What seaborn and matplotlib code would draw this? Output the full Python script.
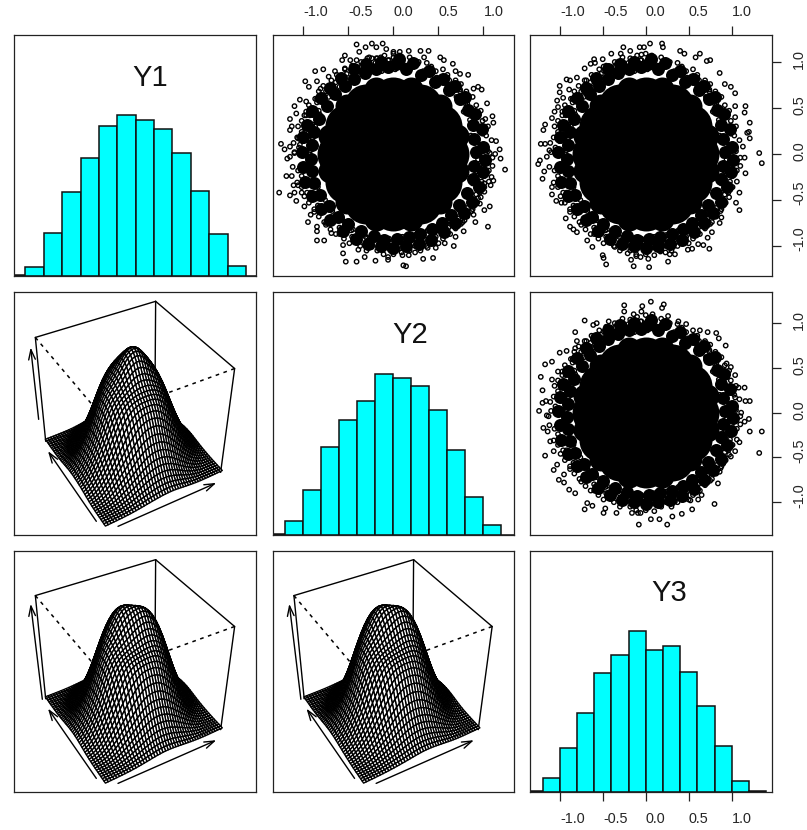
import numpy as np
import pandas as pd
import matplotlib
matplotlib.use("Agg")
import matplotlib.pyplot as plt
from matplotlib.collections import PolyCollection
from matplotlib.transforms import ScaledTranslation
import seaborn as sns

# ---------- data ----------
names = ["Y1", "Y2", "Y3"]
bin_edges = [-1.4, -1.2, -1.0, -0.8, -0.6, -0.4, -0.2, 0.0, 0.2, 0.4, 0.6, 0.8, 1.0, 1.2, 1.4]
y1_counts = [2, 28, 130, 251, 353, 450, 483, 467, 442, 369, 255, 126, 31, 0]
y2_counts = [3, 40, 134, 264, 345, 402, 483, 471, 447, 373, 255, 113, 28, 0]
y3_counts = [3, 40, 130, 235, 358, 410, 484, 426, 439, 361, 256, 138, 32, 3]
tick_values = [-1.0, -0.5, 0.0, 0.5, 1.0]
tick_labels = ["-1.0", "-0.5", "0.0", "0.5", "1.0"]

# outer points, individually readable
y2y1_x = [-.41,-.31,-.24,-.12,-.19,-.08,-.38,0,.07,.17,.30,.39,-.54,-.57,-.48,-.41,-.29,-.24,-.19,-.14,0,.34,.52,.56,.66,-.87,-.78,-.65,-.54,-.98,-.94,-.85,.69,.83,.74,-.72,-1.04,-.97,-1.10,-1.08,-1.15,-.99,-.81,.89,.94,.98,1.04,1.10,1.11,1.02,1.14,1.18,1.19,1.24,1.13,1.07,1.09,1.11,1.08,1.01,-1.25,-1.21,-1.15,-1.18,-1.10,-1.19,-1.13,-1.27,-1.15,-1.11,-1.06,-1.10,-1.08,-.99,-1.02,-.95,-.92,-.85,-.85,-.85,-.77,-.69,-.75,-.56,-.56,-.53,-.41,-.20,-.06,.11,.14,.33,.44,-.32,-.39,-.24,-.04,.09,.17,.24,.38,.47,.67,.57,.69,.78,.91,1.05,1.07,1.01,.96,.89,.79,.86,.94,1.01,-1.15,-1.13,-1.06,-1.04]
y2y1_y = [1.19,1.16,1.20,1.20,1.16,1.14,1.11,1.11,1.11,1.12,1.12,1.12,1.07,1.02,1.02,1.02,1.04,1.04,1.04,1.05,1.05,1.05,1.05,1.02,.98,.90,.92,.90,.93,.79,.73,.79,.90,.86,.87,.84,.59,.57,.52,.44,.38,.42,.71,.71,.73,.70,.55,.41,.34,.38,.14,.05,-.05,-.17,0,.01,-.25,-.29,-.34,-.32,.11,.05,.08,-.05,.01,-.24,-.24,-.42,-.45,-.34,-.34,-.42,-.51,-.57,-.42,-.74,-.66,-.79,-.84,-.94,-.94,-.86,-.75,-.99,-1.08,-1.17,-1.17,-1.16,-1.15,-1.21,-1.22,-1.14,-1.13,-1.12,-1.04,-1.01,-1.04,-1.07,-1.10,-1.07,-1.02,-1.02,-1.00,-.97,-.90,-.84,-.74,-.79,-.57,-.61,-.54,-.66,-.72,-.48,-.48,-.41,.26,.30,.17,.10]
y3y1_x = [-.26,-.07,-.02,.05,.19,.20,-.40,-.29,-.18,-.05,.40,.45,.58,.63,.71,.75,-.60,-.50,-.64,-.71,-.59,-.92,-.80,-1.00,-1.00,-.89,-.71,.86,.92,.99,1.04,1.04,1.16,1.15,1.04,1.21,1.20,1.18,1.21,1.13,1.15,1.32,1.35,1.16,1.09,1.05,1.09,.88,.86,.77,.72,.74,.67,.61,.54,.49,.34,.28,.23,.17,.26,.04,.03,-.11,-.14,-.17,-.21,-.36,-.46,-.49,-.50,-.62,-.68,-.80,-.84,-.88,-.93,-1.04,-.98,-1.09,-1.09,-1.20,-1.23,-1.25,-1.18,-1.22,-1.17,-1.12,-1.19,-1.17,-1.09,-1.06,-1.02,-1.03,-.96,-.88,-.49]
y3y1_y = [1.16,1.16,1.16,1.20,1.20,1.16,1.09,1.09,1.12,1.08,1.12,1.09,1.05,1.09,1.01,1.02,1.03,1.03,.98,.93,.99,.81,.83,.74,.67,.70,.80,.88,.76,.73,.66,.52,.52,.45,.40,.34,.24,.23,.17,.08,-.04,.01,-.10,-.21,-.42,-.53,-.61,-.69,-.75,-.85,-.91,-1.03,-.99,-.98,-1.03,-1.04,-1.09,-1.09,-1.07,-1.06,-1.17,-1.23,-1.14,-1.11,-1.22,-1.15,-1.08,-1.01,-1.20,-1.13,-1.10,-1.01,-.94,-.85,-.82,-.79,-.70,-.51,-.53,-.44,-.36,-.27,-.07,-.11,-.19,.11,.11,.04,.26,.32,.39,.46,.51,.58,.61,.80,.95]
y3y2_x = [-.25,-.04,.06,.21,.19,-.25,-.05,-.14,.08,.26,-.71,-.61,-.57,-.43,.38,.47,-.82,-.80,-.71,.63,.72,.82,.85,.93,-1.00,-.92,-.82,.83,.94,.99,1.04,-1.17,-1.09,-1.02,-1.22,-1.09,-1.20,1.08,1.15,1.04,1.16,1.21,-1.16,-1.20,-1.24,-1.13,1.11,1.20,1.15,1.35,1.21,-1.19,-1.14,-1.11,1.09,1.04,1.32,-1.17,-1.07,.99,.90,-1.03,-1.07,-.95,-1.01,-.95,-.89,-.82,.86,.84,.65,.61,.80,.54,.42,.31,.16,.06,.25,-.08,-.71,-.68,-.62,-.47,-.49,-.34,-.16,-.09,.52,.34]
y3y2_y = [1.20,1.19,1.24,1.21,1.17,1.13,1.13,1.10,1.10,1.08,1.03,.98,1.00,1.02,1.02,.99,.90,.80,.80,.92,.90,.89,.83,.75,.67,.69,.72,.61,.55,.51,.42,.54,.57,.46,.40,.37,.25,.28,.28,.17,.13,.13,.13,.11,.02,-.04,0,-.07,-.10,-.21,-.21,-.17,-.21,-.32,-.33,-.43,-.45,-.48,-.43,-.49,-.57,-.58,-.64,-.69,-.75,-.78,-.86,-.90,-.66,-.79,-.92,-.97,-1.02,-1.08,-1.13,-1.16,-1.19,-1.19,-1.25,-1.25,-1.08,-1.01,-1.04,-1.07,-1.12,-1.12,-1.12,-1.12,-.98,-.99]

# crowded fringe: estimated hollow points, shared by the three scatter panels
fringe_x = [1.05,.96,1.10,.90,1.03,.93,1.09,.86,.99,.90,1.05,.85,.92,.83,.97,.80,.81,.73,.88,.74,.69,.62,.75,.60,.55,.50,.60,.47,.37,.33,.42,.28,.18,.15,.24,.10,0,.03,-.05,.07,-.18,-.13,-.23,-.10,-.36,-.30,-.40,-.27,-.54,-.47,-.58,-.46,-.69,-.60,-.73,-.63,-.83,-.72,-.85,-.78,-.94,-.83,-.97,-.87,-1.02,-.90,-1.06,-.97,-1.07,-.94,-1.11,-1.02,-1.10,-.96,-1.15,-1.05,-1.06,-.95,-1.12,-1.02,-1.02,-.90,-1.07,-.96,-.94,-.84,-.99,-.88,-.83,-.74,-.88,-.77,-.70,-.61,-.75,-.64,-.55,-.47,-.60,-.49,-.37,-.31,-.42,-.30,-.18,-.15,-.24,-.11,0,-.03,.05,-.06,.18,.14,.24,.10,.37,.32,.42,.30,.55,.48,.60,.50,.69,.62,.75,.63,.82,.73,.87,.77,.93,.83,.97,.88,1.01,.90,1.06,.96,1.06,.94,1.10,1.01]
fringe_y = [.03,.07,-.04,-.02,.20,.14,.15,.20,.36,.30,.30,.37,.53,.47,.47,.55,.68,.62,.62,.70,.80,.74,.76,.83,.92,.82,.86,.90,.99,.90,.95,1.0,1.05,.96,.97,1.0,1.09,.97,1.02,1.07,1.04,.93,.95,1.07,1.0,.90,.93,1.05,.92,.83,.85,.96,.80,.73,.72,.86,.68,.62,.60,.74,.53,.47,.46,.60,.36,.32,.30,.42,.18,.16,.12,.24,.02,-.02,-.03,.07,-.18,-.15,-.14,-.24,-.36,-.32,-.31,-.42,-.53,-.47,-.46,-.60,-.68,-.60,-.63,-.74,-.82,-.72,-.77,-.87,-.92,-.83,-.87,-.97,-1.0,-.90,-.95,-1.05,-1.05,-.95,-1.0,-1.09,-1.09,-.97,-1.03,-1.12,-1.05,-.95,-1.0,-1.1,-1.0,-.90,-.95,-1.05,-.92,-.83,-.86,-.97,-.81,-.72,-.76,-.87,-.68,-.61,-.62,-.74,-.53,-.47,-.47,-.60,-.36,-.31,-.30,-.42,-.18,-.15,-.13,-.24]

# dense band: estimated clumps of overplotted points
band_x = [.03,.14,.22,.31,.40,.46,.55,.62,.68,.74,.80,.83,.91,.88,.98,.90,1.0,.92,1.02,.90,.99,.88,.95,.82,.87,.73,.78,.64,.68,.54,.56,.43,.42,.30,.28,.17,.14,.04,0,-.10,-.14,-.22,-.28,-.36,-.42,-.50,-.56,-.62,-.70,-.72,-.80,-.82,-.90,-.88,-.98,-.90,-1.0,-.92,-1.02,-.90,-1.0,-.88,-.96,-.83,-.90,-.74,-.80,-.65,-.70,-.54,-.58,-.44,-.44,-.32,-.30,-.19,-.14,-.06,.06]
band_y = [.98,.92,.99,.86,.90,.78,.82,.70,.74,.60,.62,.48,.43,.32,.27,.16,.08,.02,-.06,-.13,-.20,-.27,-.36,-.42,-.52,-.55,-.64,-.66,-.75,-.75,-.85,-.82,-.93,-.87,-.98,-.90,-1.0,-.92,-1.02,-.93,-1.0,-.89,-.98,-.84,-.92,-.76,-.84,-.68,-.72,-.57,-.60,-.45,-.46,-.32,-.30,-.18,-.14,-.05,.02,.10,.18,.24,.32,.38,.47,.52,.61,.65,.72,.74,.83,.82,.92,.88,.98,.92,1.0,.94,1.03]

# solid black core: estimated positions and overplot counts
core_x = [0, .3,.15,-.15,-.3,-.15,.15, .6,.52,.3,0,-.3,-.52,-.6,-.52,-.3,0,.3,.52]
core_y = [0, 0,.26,.26,0,-.26,-.26, 0,.3,.52,.6,.52,.3,0,-.3,-.52,-.6,-.52,-.3]
rim_x = [.71,.52,.19,-.19,-.52,-.71,-.71,-.52,-.19,.19,.52,.71]
rim_y = [.19,.52,.71,.71,.52,.19,-.19,-.52,-.71,-.71,-.52,-.19]
core_n_y1y2 = [30, 34,36,32,28,26,26, 22,26,26,26,24,22,20,20,20,20,20,20]
core_n_y1y3 = [24, 42,28,42,28,24,26, 24,26,26,28,24,22,20,20,20,20,20,20]
core_n_y2y3 = [24, 42,28,42,28,24,26, 24,26,26,28,24,22,20,20,20,20,20,20]

# ---------- helpers ----------
W, H = 807, 830
col_px = [(14.0, 256.3), (272.7, 513.7), (529.7, 772.3)]
row_px = [(35.0, 276.0), (292.3, 534.7), (550.7, 791.7)]
col_lim = [(-1.323, 1.311), (-1.342, 1.336), (-1.349, 1.472)]
row_lim = [(-1.326, 1.293), (-1.363, 1.345), (-1.363, 1.345)]

sns.set_theme(style="white")
plt.rcParams["font.family"] = ["Liberation Sans", "DejaVu Sans"]
plt.rcParams["axes.edgecolor"] = "#222222"
plt.rcParams["axes.linewidth"] = 0.9
fig = plt.figure(figsize=(W / 100, H / 100), dpi=100)


def panel(r, c):
    x0, x1 = col_px[c]
    y0, y1 = row_px[r]
    return fig.add_axes([x0 / W, 1 - y1 / H, (x1 - x0) / W, (y1 - y0) / H])


def hist(r, c, counts, top, name, tx, ty):
    ax = panel(r, c)
    edges = np.array(bin_edges)
    df = pd.DataFrame({"value": edges[:-1] + 0.1, "count": counts})
    sns.histplot(data=df, x="value", weights="count", bins=bin_edges, color="#00FFFF",
                 edgecolor="#111111", linewidth=1.1, alpha=1, ax=ax)
    ax.set_xlim(col_lim[c])
    ax.set_ylim(0, top)
    ax.set_xlabel("")
    ax.set_ylabel("")
    ax.set_xticks([])
    ax.set_yticks([])
    fig.text(tx / W, 1 - ty / H, name, fontsize=21, ha="center", va="center", color="#111111")
    return ax


def scatter(r, c, xs, ys):
    ax = panel(r, c)
    sns.scatterplot(x=core_x, y=core_y, s=(44 * .72) ** 2, color="black", linewidth=0, ax=ax)
    sns.scatterplot(x=rim_x, y=rim_y, s=(24 * .72) ** 2, color="black", linewidth=0, ax=ax)
    sns.scatterplot(x=band_x, y=band_y, s=(13 * .72) ** 2, color="black", linewidth=0, ax=ax)
    for px, py in [(fringe_x, fringe_y), (band_y, band_x), (xs, ys)]:
        sns.scatterplot(x=px, y=py, s=(4.4 * .72) ** 2, facecolor="none", edgecolor="black",
                        linewidth=1.0, ax=ax)
    ax.set_xlim(col_lim[c])
    ax.set_ylim(row_lim[r])
    ax.set_xticks([])
    ax.set_yticks([])
    return ax


def label_axis(ax, which):
    fs = 10.4
    if which in ("top", "bottom"):
        ax.set_xticks(tick_values)
        ax.set_xticklabels(tick_labels, fontsize=fs)
        pad = 5 if which == "top" else 8.5
        ax.tick_params(axis="x", which="major", length=6.3, width=0.9, pad=pad, color="#222222",
                       top=which == "top", bottom=which == "bottom",
                       labeltop=which == "top", labelbottom=which == "bottom")
        for t, v in zip(ax.get_xticklabels(), tick_values):
            dpx = 12.5 if v < 0 else 10
            t.set_transform(t.get_transform() + ScaledTranslation(dpx / 100, 0, fig.dpi_scale_trans))
    else:
        ax.set_yticks(tick_values)
        ax.set_yticklabels(tick_labels, fontsize=fs, rotation=90, va="center")
        ax.tick_params(axis="y", which="major", length=6.3, width=0.9, pad=8, color="#222222",
                       right=True, left=False, labelright=True, labelleft=False)
        for t, v in zip(ax.get_yticklabels(), tick_values):
            dpx = 7 if v < 0 else 3
            t.set_transform(t.get_transform() + ScaledTranslation(0, dpx / 100, fig.dpi_scale_trans))


def camera(corners):
    rows = []
    for (X, Y, Z), (u, v) in corners.items():
        p = [X, Y, Z, 1]
        rows.append(p + [0, 0, 0, 0] + [-u * a for a in p])
        rows.append([0, 0, 0, 0] + p + [-v * a for a in p])
    return np.linalg.svd(np.array(rows, float))[2][-1].reshape(3, 4)


corners = {(0, 0, 0): (293, 713), (1, 0, 0): (638, 553), (0, 1, 0): (113, 460), (1, 1, 0): (441, 320),
           (0, 0, 1): (283, 387), (1, 0, 1): (680, 243), (0, 1, 1): (82, 150), (1, 1, 1): (443, 42)}
CAM = camera(corners)


def project(X, Y, Z):
    p = np.stack([X, Y, Z, np.ones_like(X)], axis=-1) @ CAM.T
    return p[..., 0] / p[..., 2], p[..., 1] / p[..., 2]


def density(xa, ya, wa, n=46, bw=0.215, lim=1.42):
    g = np.linspace(-lim, lim, n)
    gx, gy = np.meshgrid(g, g, indexing="ij")
    xa, ya, wa = (np.asarray(a, float) for a in (xa, ya, wa))
    d = np.exp(-((gx[..., None] - xa) ** 2 + (gy[..., None] - ya) ** 2) / (2 * bw ** 2))
    return (d * wa).sum(-1)


def persp(r, c, xs, ys, core_n, zarrow):
    ax = panel(r, c)
    ax.set_xlim(18, 745)
    ax.set_ylim(740, 15)
    ax.set_xticks([])
    ax.set_yticks([])
    xa = list(xs) + fringe_x + band_x + rim_x + core_x
    ya = list(ys) + fringe_y + band_y + rim_y + core_y
    wa = [.5] * len(xs) + [.5] * len(fringe_x) + [1.5] * len(band_x) + [14] * len(rim_x) + list(core_n)
    Z = density(xa, ya, wa)
    Z = Z / Z.max()
    n = Z.shape[0]
    g = np.linspace(0, 1, n)
    GX, GY = np.meshgrid(g, g, indexing="ij")
    u, v = project(GX, GY, Z)
    polys, keys = [], []
    for i in range(n - 1):
        for j in range(n - 1):
            polys.append([(u[i, j], v[i, j]), (u[i + 1, j], v[i + 1, j]),
                          (u[i + 1, j + 1], v[i + 1, j + 1]), (u[i, j + 1], v[i, j + 1])])
            keys.append(-(g[i] + g[j]))
    order = np.argsort(keys)
    pc = PolyCollection([polys[k] for k in order], facecolors="white", edgecolors="black",
                        linewidths=1.0, zorder=3)
    solid = [((0, 1, 1), (1, 1, 1)), ((1, 1, 1), (1, 0, 1)), ((0, 1, 1), (0, 1, 0)),
             ((1, 0, 1), (1, 0, 0)), ((1, 1, 1), (1, 1, 0)), ((0, 1, 0), (1, 1, 0)), ((1, 0, 0), (1, 1, 0))]
    dotted = [((0, 1, 1), (0, 0, 1)), ((1, 0, 1), (0, 0, 1))]
    for a, b in solid:
        ax.plot([corners[a][0], corners[b][0]], [corners[a][1], corners[b][1]],
                color="black", lw=1.0, zorder=1)
    for a, b in dotted:
        ax.plot([corners[a][0], corners[b][0]], [corners[a][1], corners[b][1]],
                color="black", lw=1.1, ls=(0, (2.4, 3)), zorder=1)
    ax.add_collection(pc)
    for start, end in [zarrow, ((265, 700), (120, 490)), ((330, 715), (625, 585))]:
        ax.annotate("", xy=end, xytext=start, zorder=4,
                    arrowprops=dict(arrowstyle="->,head_length=0.6,head_width=0.2", lw=1.0,
                                    color="black", shrinkA=0, shrinkB=0))
    return ax


# ---------- layout ----------
hist(0, 0, y1_counts, 723, names[0], 150, 78)
hist(1, 1, y2_counts, 727, names[1], 410, 335)
a33 = hist(2, 2, y3_counts, 724, names[2], 669, 593)
a12 = scatter(0, 1, y2y1_x, y2y1_y)
a13 = scatter(0, 2, y3y1_x, y3y1_y)
a23 = scatter(1, 2, y3y2_x, y3y2_y)
persp(1, 0, y2y1_x, y2y1_y, core_n_y1y2, ((92, 395), (68, 180)))
persp(2, 0, y3y1_x, y3y1_y, core_n_y1y3, ((103, 462), (68, 175)))
persp(2, 1, y3y2_x, y3y2_y, core_n_y2y3, ((103, 462), (68, 175)))
label_axis(a12, "top")
label_axis(a13, "top")
label_axis(a13, "right")
label_axis(a23, "right")
label_axis(a33, "bottom")

fig.savefig("out.png", dpi=100)
